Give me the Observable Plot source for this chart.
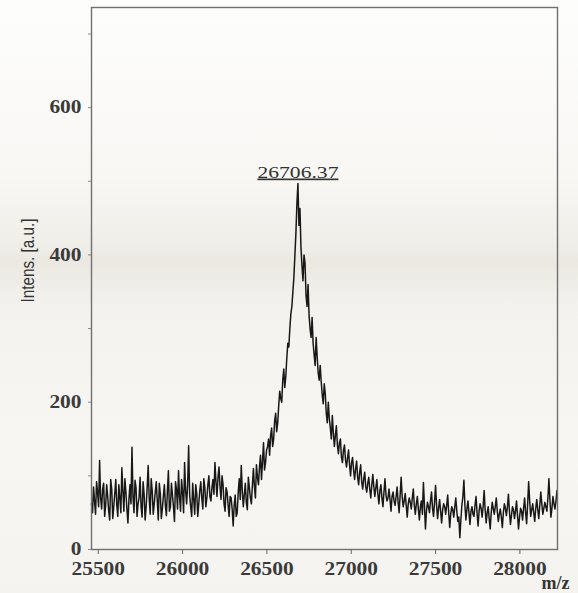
<!DOCTYPE html>
<html>
<head>
<meta charset="utf-8">
<script src="https://cdn.jsdelivr.net/npm/d3@7"></script>
<script src="https://cdn.jsdelivr.net/npm/@observablehq/plot@0.6"></script>
<style>
  html, body { margin: 0; padding: 0; }
  body {
    width: 578px; height: 593px; overflow: hidden;
    background: linear-gradient(to bottom, #fdfdfc 0%, #f8f7f4 30%, #efede7 42%, #ebe8e1 44%, #f3f2ee 52%, #f7f6f2 75%, #f4f3ef 100%);
  }
  .peak text { text-decoration: underline; text-decoration-thickness: 1.5px; }
</style>
</head>
<body>
<div id="chart"></div>
<script>
// m/z sampling positions, first set
const mz = [
  25460,25472,25484,25496,25508,25520,25532,25544,25556,25568,
  25580,25592,25604,25616,25628,25640,25652,25664,25676,25688,
  25700,25712,25724,25736,25748,25760,25772,25784,25796,25808,
  25820,25832,25844,25856,25868,25880,25892,25904,25916,25928,
  25940,25952,25964,25976,25988,26000,26012,26024,26036,26048,
  26060,26072,26084,26096,26108,26120,26132,26144,26156,26168,
  26180,26192,26204,26216,26228,26240,26252,26264,26276,26288,
  26300,26312,26324,26336,26348,26360,26372,26384,26396,26408,
  26420,26432,26444,26456,26468,26480,26492,26504,26516,26528,
  26540,26552,26564,26576,26588,26600,26612,26624,26636,26648,
  26660,26672,26684,26696,26708,26720,26732,26744,26756,26768,
  26780,26792,26804,26816,26828,26840,26852,26864,26876,26888,
  26900,26912,26924,26936,26948,26960,26972,26984,26996,27008,
  27020,27032,27044,27056,27068,27080,27092,27104,27116,27128,
  27140,27152,27164,27176,27188,27200,27212,27224,27236,27248,
  27260,27272,27284,27296,27308,27320,27332,27344,27356,27368,
  27380,27392,27404,27416,27428,27440,27452,27464,27476,27488,
  27500,27512,27524,27536,27548,27560,27572,27584,27596,27608,
  27620,27632,27644,27656,27668,27680,27692,27704,27716,27728,
  27740,27752,27764,27776,27788,27800,27812,27824,27836,27848,
  27860,27872,27884,27896,27908,27920,27932,27944,27956,27968,
  27980,27992,28004,28016,28028,28040,28052,28064,28076,28088,
  28100,28112,28124,28136,28148,28160,28172,28184,28196,28208,
  28220
];

// intensities [a.u.] at those positions
const intensity = [
  62,85,48,78,121,55,90,60,72,40,
  82,58,95,45,70,111,52,78,36,88,
  139,50,84,62,98,44,75,58,114,48,
  80,62,92,40,76,55,88,46,107,58,
  74,38,82,107,52,78,118,62,141,58,
  90,48,76,62,92,55,84,70,100,66,
  95,118,72,112,68,88,52,78,45,70,
  32,74,50,96,114,58,90,54,84,62,
  110,70,98,112,95,145,118,140,128,165,
  150,185,172,215,200,245,235,280,300,330,
  370,430,497,463,385,400,345,360,300,315,
  265,288,240,250,210,225,185,200,165,182,
  140,168,130,150,118,142,112,135,100,125,
  95,120,88,115,82,105,78,98,70,102,
  72,95,62,88,58,96,66,82,52,78,
  60,85,50,98,58,76,44,70,55,82,
  48,72,40,66,91,28,64,50,78,45,
  87,42,68,36,62,48,74,30,58,44,
  70,38,16,60,94,40,66,34,58,45,
  72,32,62,44,80,36,58,28,64,48,
  70,38,55,30,62,46,75,34,58,42,
  66,28,56,40,70,35,92,45,62,38,
  68,42,78,48,64,52,96,44,72,55,
  80
];

// m/z sampling positions, in-between set
const mzMid = [
  25466,25478,25490,25502,25514,25526,25538,25550,25562,25574,
  25586,25598,25610,25622,25634,25646,25658,25670,25682,25694,
  25706,25718,25730,25742,25754,25766,25778,25790,25802,25814,
  25826,25838,25850,25862,25874,25886,25898,25910,25922,25934,
  25946,25958,25970,25982,25994,26006,26018,26030,26042,26054,
  26066,26078,26090,26102,26114,26126,26138,26150,26162,26174,
  26186,26198,26210,26222,26234,26246,26258,26270,26282,26294,
  26306,26318,26330,26342,26354,26366,26378,26390,26402,26414,
  26426,26438,26450,26462,26474,26486,26498,26510,26522,26534,
  26546,26558,26570,26582,26594,26606,26618,26630,26642,26654,
  26666,26678,26690,26702,26714,26726,26738,26750,26762,26774,
  26786,26798,26810,26822,26834,26846,26858,26870,26882,26894,
  26906,26918,26930,26942,26954,26966,26978,26990,27002,27014,
  27026,27038,27050,27062,27074,27086,27098,27110,27122,27134,
  27146,27158,27170,27182,27194,27206,27218,27230,27242,27254,
  27266,27278,27290,27302,27314,27326,27338,27350,27362,27374,
  27386,27398,27410,27422,27434,27446,27458,27470,27482,27494,
  27506,27518,27530,27542,27554,27566,27578,27590,27602,27614,
  27626,27638,27650,27662,27674,27686,27698,27710,27722,27734,
  27746,27758,27770,27782,27794,27806,27818,27830,27842,27854,
  27866,27878,27890,27902,27914,27926,27938,27950,27962,27974,
  27986,27998,28010,28022,28034,28046,28058,28070,28082,28094,
  28106,28118,28130,28142,28154,28166,28178,28190,28202,28214
];

const intensityMid = [
  50,66,92,58,70,82,45,88,52,95,
  42,76,60,88,50,80,96,55,68,62,
  72,94,45,70,58,92,40,84,70,96,
  48,78,66,90,42,72,60,80,52,90,
  58,92,55,72,95,50,80,88,74,45,
  68,88,45,80,70,96,58,88,72,84,
  75,92,98,85,100,62,84,60,72,55,
  60,45,78,68,80,74,64,98,70,88,
  85,115,88,128,120,108,135,150,155,140,
  175,160,195,205,230,220,260,275,320,350,
  400,470,440,410,365,389,330,318,288,280,
  250,262,230,228,198,212,172,178,150,158,
  155,142,145,125,135,122,124,115,118,108,
  110,98,105,92,96,85,90,82,88,85,
  84,75,80,70,78,74,70,68,72,66,
  72,64,74,72,66,60,62,64,70,60,
  62,55,58,48,60,52,58,66,56,64,
  60,56,52,54,58,60,50,48,54,58,
  52,44,40,72,60,55,50,52,48,60,
  50,52,56,58,54,50,42,50,56,58,
  52,48,44,50,56,58,52,46,54,52,
  46,44,52,56,50,62,66,54,50,56,
  54,60,62,56,58,70,68,56,62,66
];

// axis ticks
const yTickValues = [0, 200, 400, 600];
const yMinorTicks = [100, 300, 500, 700];
const xTickValues = [25500, 26000, 26500, 27000, 27500, 28000];

// peak annotation
const peakMz = [26684];
const peakIntensity = [497];
const peakLabel = ["26706.37"];

const yTitle = ["Intens. [a.u.]"];
const xTitle = ["m/z"];

const spectrum = mz.map((m, i) => ({mz: m, intensity: intensity[i]}))
  .concat(mzMid.map((m, i) => ({mz: m, intensity: intensityMid[i]})))
  .sort((a, b) => a.mz - b.mz);
const peaks = peakMz.map((m, i) => ({mz: m, intensity: peakIntensity[i], label: peakLabel[i]}));

const serif = "'Liberation Serif', 'Times New Roman', serif";

const chart = Plot.plot({
  width: 578,
  height: 593,
  marginLeft: 91,
  marginRight: 21,
  marginTop: 7,
  marginBottom: 44,
  style: {fontFamily: serif, fontSize: "18px", color: "#333", background: "transparent", overflow: "visible"},
  x: {domain: [25460, 28223]},
  y: {domain: [0, 736]},
  marks: [
    Plot.line(spectrum, {x: "mz", y: "intensity", stroke: "#000", strokeWidth: 1.5, strokeOpacity: 0.9}),
    Plot.frame({stroke: "#707070", strokeWidth: 1.4}),
    Plot.axisY({ticks: yTickValues, tickSize: 3, tickPadding: 7, label: null, stroke: "#888", fill: "#3a3a3a", fontWeight: "bold", fontSize: 18, className: "ticklab"}),
    Plot.axisY({ticks: yMinorTicks, tickSize: 3, text: null, label: null, stroke: "#888"}),
    Plot.axisX({ticks: xTickValues, tickSize: 5, tickPadding: 7, tickFormat: d => String(d), label: null, stroke: "#666", fill: "#3a3a3a", fontWeight: "bold", fontSize: 18.5, className: "ticklab"}),
    Plot.text(peaks, {x: "mz", y: "intensity", text: "label", dy: -6, lineAnchor: "bottom", fill: "#333", fontSize: 17, className: "peak"}),
    Plot.text(yTitle, {frameAnchor: "left", textAnchor: "middle", dx: -64, dy: -18, rotate: -90, fontFamily: "'Liberation Sans', sans-serif", fontSize: 19, fill: "#333", className: "ytitle"}),
    Plot.text(xTitle, {frameAnchor: "bottom-right", dx: -16, dy: 39, textAnchor: "start", lineAnchor: "bottom", fontSize: 18, fontWeight: "bold", fill: "#333"})
  ]
});
document.getElementById("chart").appendChild(chart);
const svg = d3.select(chart);
// the reference's faces are horizontally wide / narrow: match measured text widths
svg.selectAll(".ytitle text").attr("textLength", 84).attr("lengthAdjust", "spacingAndGlyphs");
svg.selectAll(".ticklab text").each(function () {
  const t = d3.select(this);
  const n = t.text().length;
  if (n) t.attr("textLength", n * 10.7).attr("lengthAdjust", "spacingAndGlyphs");
});
svg.selectAll(".peak text").attr("textLength", 81).attr("lengthAdjust", "spacingAndGlyphs");
</script>
</body>
</html>
